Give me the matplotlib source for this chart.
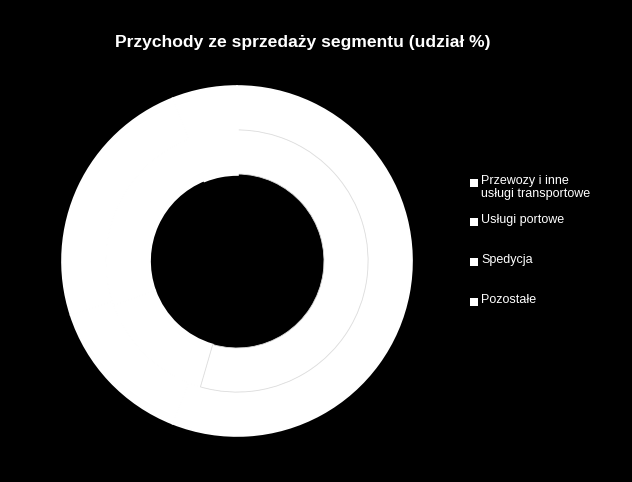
import matplotlib
matplotlib.use("Agg")
import matplotlib.pyplot as plt
from matplotlib.patches import Rectangle

plt.rcParams['font.family'] = ['Liberation Sans', 'DejaVu Sans']

title = "Przychody ze sprzedaży segmentu (udział %)"
categories = ["Przewozy i inne\nusługi transportowe", "Usługi portowe", "Spedycja", "Pozostałe"]
outer_values = [56, 14, 24, 6]
inner_values = [54.5, 15, 24.5, 6]

W, H = 632, 482
fig = plt.figure(figsize=(W / 100, H / 100), dpi=100, facecolor='black')

cx, cy, R = 237, 261, 175
ax = fig.add_axes([(cx - R) / W, (H - cy - R) / H, 2 * R / W, 2 * R / H])
ax.set_facecolor('black')
ax.axis('off')

white = ['white'] * len(categories)
outer, _ = ax.pie(outer_values, radius=1.0, colors=white, startangle=90,
                  counterclock=False, wedgeprops=dict(width=0.251, edgecolor='white', linewidth=1.2))
inner, _ = ax.pie(inner_values, radius=0.749, colors=white, startangle=90,
                  counterclock=False, wedgeprops=dict(width=0.252, edgecolor='white', linewidth=1.2))
for w in outer:
    w.set_zorder(2)
for w in inner[1:]:
    w.set_zorder(3)
inner[0].set_edgecolor('#dcdcdc')
inner[0].set_linewidth(0.6)
inner[0].set_zorder(5)
inner[-1].set_zorder(6)
inner[-1].set_linewidth(2.6)
ax.set_xlim(-1, 1)
ax.set_ylim(-1, 1)
ax.set_aspect('equal')

fig.text(303 / W, 1 - 43 / H, title, color='white', fontsize=12.6, fontweight='bold',
         ha='center', va='center')

# manual legend
ys = [183, 222, 262, 302]
for lab, y in zip(categories, ys):
    fig.patches.append(Rectangle((470 / W, 1 - (y + 4) / H), 8 / W, 8 / H,
                                 transform=fig.transFigure, facecolor='white', edgecolor='none'))
    fig.text(481 / W, 1 - (y - 8) / H, lab, color='white', fontsize=9, ha='left', va='top',
             linespacing=1.1)

fig.savefig('out.png', dpi=100, facecolor='black')
